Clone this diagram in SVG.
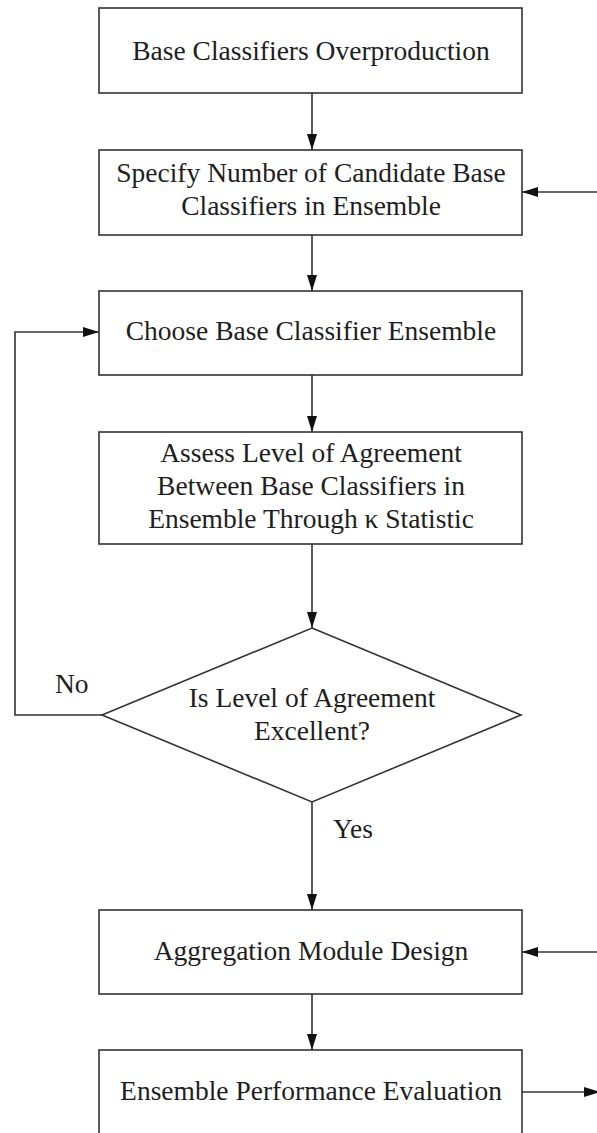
<svg xmlns="http://www.w3.org/2000/svg" width="597" height="1133" viewBox="0 0 597 1133">
  <style>
    .box { fill: #ffffff; stroke: #333333; stroke-width: 1.6; }
    .line { fill: none; stroke: #333333; stroke-width: 1.6; }
    .label { font-family: 'Liberation Serif', 'Times New Roman', Times, 'DejaVu Serif', serif; font-size: 27.5px; fill: #1e1e1e; text-anchor: middle; }
    .side { text-anchor: start; }
  </style>
  <defs>
    <marker id="arrow" viewBox="0 0 16 10" refX="16" refY="5" markerWidth="16" markerHeight="10" markerUnits="userSpaceOnUse" orient="auto">
      <path d="M0,0 L16,5 L0,10 Z" fill="#111111"/>
    </marker>
  </defs>
  <rect width="597" height="1133" fill="#ffffff"/>

  <g id="connectors">
    <line class="line" x1="312" y1="93" x2="312" y2="150" marker-end="url(#arrow)"/>
    <line class="line" x1="312" y1="235" x2="312" y2="291" marker-end="url(#arrow)"/>
    <line class="line" x1="312" y1="375" x2="312" y2="432" marker-end="url(#arrow)"/>
    <line class="line" x1="312" y1="544" x2="312" y2="628" marker-end="url(#arrow)"/>
    <line class="line" x1="312" y1="802" x2="312" y2="910" marker-end="url(#arrow)"/>
    <line class="line" x1="312" y1="994" x2="312" y2="1050" marker-end="url(#arrow)"/>
    <!-- "No" loop back to ensemble selection -->
    <polyline class="line" points="102,715 15,715 15,332 99,332" marker-end="url(#arrow)"/>
    <!-- side inputs / output -->
    <line class="line" x1="597" y1="192" x2="522" y2="192" marker-end="url(#arrow)"/>
    <line class="line" x1="597" y1="952" x2="522" y2="952" marker-end="url(#arrow)"/>
    <line class="line" x1="522" y1="1092" x2="600" y2="1092" marker-end="url(#arrow)"/>
    <text class="label side" x="55" y="693">No</text>
    <text class="label side" x="333" y="838">Yes</text>
  </g>

  <g id="overproduction">
    <rect class="box" x="99" y="8" width="423" height="85"/>
    <text class="label" x="311" y="60">Base Classifiers Overproduction</text>
  </g>

  <g id="specify-number">
    <rect class="box" x="99" y="150" width="423" height="85"/>
    <text class="label" x="311" y="182">Specify Number of Candidate Base</text>
    <text class="label" x="311" y="215">Classifiers in Ensemble</text>
  </g>

  <g id="choose-ensemble">
    <rect class="box" x="99" y="291" width="423" height="84"/>
    <text class="label" x="311" y="340">Choose Base Classifier Ensemble</text>
  </g>

  <g id="assess-agreement">
    <rect class="box" x="99" y="432" width="423" height="112"/>
    <text class="label" x="311" y="462">Assess Level of Agreement</text>
    <text class="label" x="311" y="495">Between Base Classifiers in</text>
    <text class="label" x="311" y="528">Ensemble Through κ Statistic</text>
  </g>

  <g id="decision">
    <polygon class="box" points="312,628 521,715 312,802 102,715"/>
    <text class="label" x="312" y="707">Is Level of Agreement</text>
    <text class="label" x="312" y="740">Excellent?</text>
  </g>

  <g id="aggregation">
    <rect class="box" x="99" y="910" width="423" height="84"/>
    <text class="label" x="311" y="960">Aggregation Module Design</text>
  </g>

  <g id="evaluation">
    <rect class="box" x="99" y="1050" width="423" height="90"/>
    <text class="label" x="311" y="1100">Ensemble Performance Evaluation</text>
  </g>
</svg>
